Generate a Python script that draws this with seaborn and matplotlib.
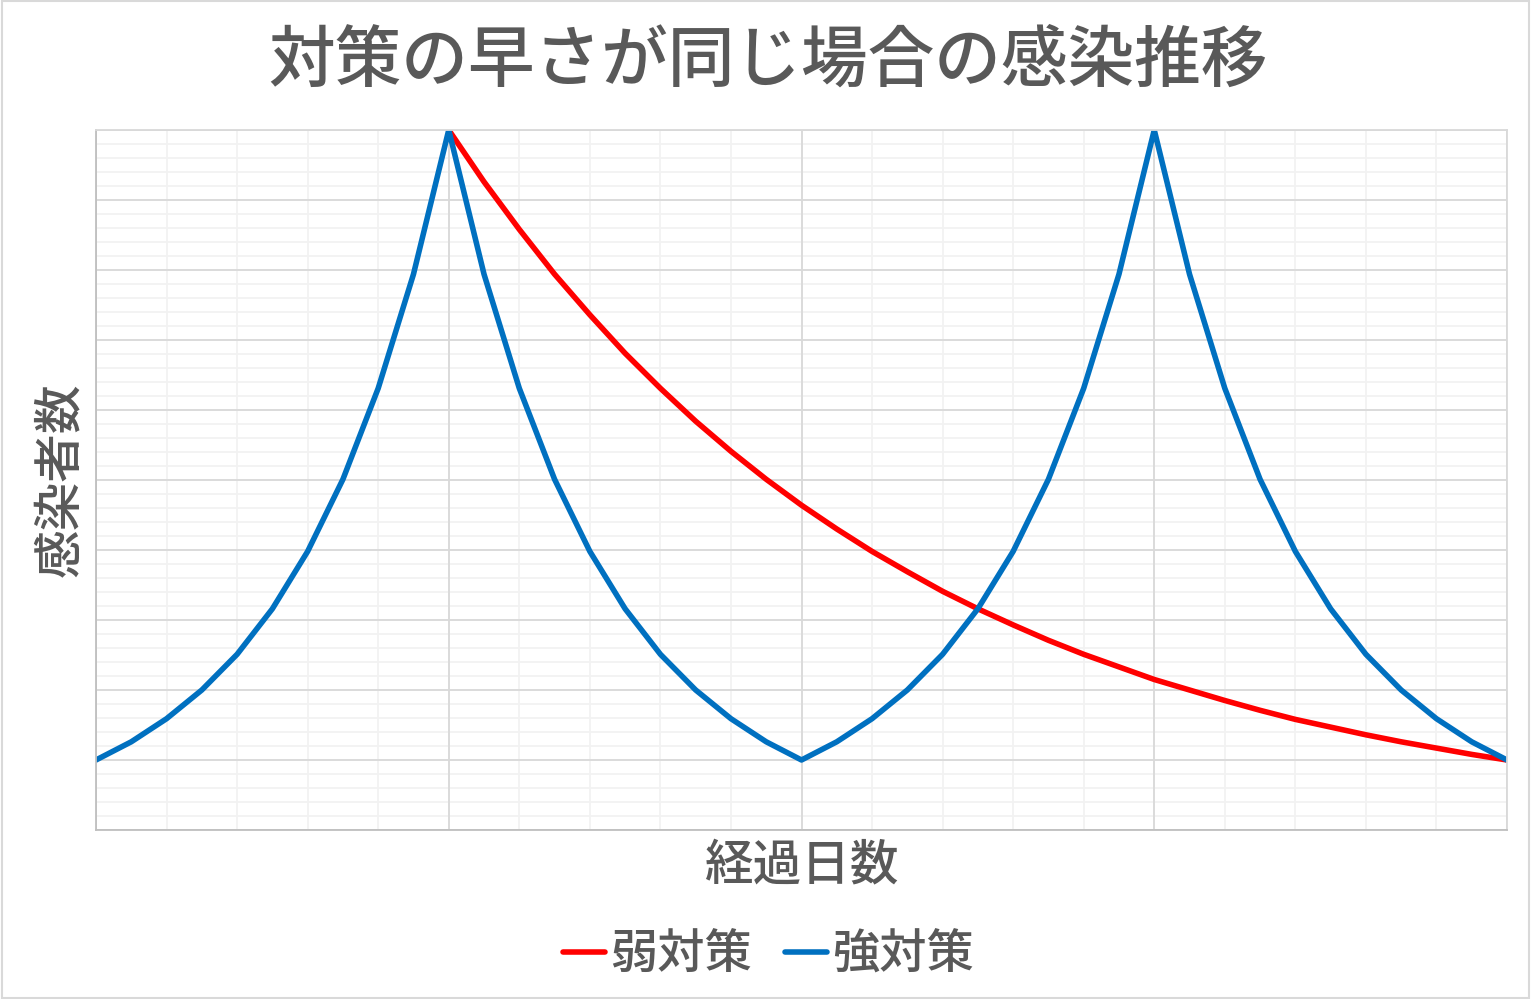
import numpy as np
import pandas as pd
import matplotlib.pyplot as plt
import seaborn as sns
from matplotlib.patches import Rectangle

# days 0..40, values (y axis 0..10, no labels)
days = list(range(41))

strong = [1.0, 1.26, 1.59, 2.0, 2.51, 3.16, 3.98, 5.01, 6.31, 7.94, 10.0,
          7.94, 6.31, 5.01, 3.98, 3.16, 2.51, 2.0, 1.59, 1.26, 1.0,
          1.26, 1.59, 2.0, 2.51, 3.16, 3.98, 5.01, 6.31, 7.94, 10.0,
          7.94, 6.31, 5.01, 3.98, 3.16, 2.51, 2.0, 1.59, 1.26, 1.0]

# weak measures start at the first peak (day 10)
weak_days = list(range(10, 41))
weak = [10.0, 9.26, 8.58, 7.94, 7.36, 6.81, 6.31, 5.84, 5.41, 5.01,
        4.64, 4.30, 3.98, 3.69, 3.41, 3.16, 2.93, 2.71, 2.51, 2.33,
        2.15, 2.00, 1.85, 1.71, 1.58, 1.47, 1.36, 1.26, 1.17, 1.08, 1.0]

series_names = ['弱対策', '強対策']
colors = ['#FF0000', '#0070C0']

df = pd.concat([
    pd.DataFrame({'day': weak_days, 'value': weak, 'series': series_names[0]}),
    pd.DataFrame({'day': days, 'value': strong, 'series': series_names[1]}),
])

sns.set_style('white')
plt.rcParams['font.family'] = ['Noto Sans CJK JP', 'DejaVu Sans']
text_color = '#595959'
weight = 'medium'

fig = plt.figure(figsize=(15.31, 9.99), dpi=100)
ax = fig.add_axes([96 / 1531, 1 - 830 / 999, (1507 - 96) / 1531, 700 / 999])

sns.lineplot(data=df, x='day', y='value', hue='series', hue_order=series_names,
             palette=dict(zip(series_names, colors)), linewidth=4.0, ax=ax,
             legend=False)

ax.set_xlim(0, 40)
ax.set_ylim(0, 10)
ax.set_xticks(np.arange(0, 41, 10))
ax.set_yticks(np.arange(0, 11, 1))
ax.tick_params(which='both', length=0, labelleft=False, labelbottom=False)

# minor grid first, major on top (like Excel)
for x in np.arange(0, 41, 2):
    ax.axvline(x, color='#F2F2F2', linewidth=1.3, zorder=0.1)
for y in np.arange(0, 10.01, 0.2):
    ax.axhline(y, color='#F2F2F2', linewidth=1.3, zorder=0.1)
ax.grid(which='major', color='#D9D9D9', linewidth=1.3)
ax.set_axisbelow(True)
for s in ['top', 'right']:
    ax.spines[s].set_color('#D9D9D9')
    ax.spines[s].set_linewidth(1.3)
for s in ['left', 'bottom']:
    ax.spines[s].set_color('#BFBFBF')
    ax.spines[s].set_linewidth(1.3)

ax.set_xlabel('')
ax.set_ylabel('')
fig.text(768 / 1531, 1 - 62 / 999, '対策の早さが同じ場合の感染推移', ha='center', va='center',
         fontsize=48, color=text_color, fontweight=weight)
fig.text(801 / 1531, 1 - 865 / 999, '経過日数', ha='center', va='center',
         fontsize=35, color=text_color, fontweight=weight)
fig.text(60 / 1531, 1 - 480 / 999, '感染者数', ha='center', va='center',
         fontsize=35, color=text_color, rotation=90, fontweight=weight)

handles = [plt.Line2D([], [], color=c, linewidth=4.0, solid_capstyle='round') for c in colors]
leg = fig.legend(handles, series_names, loc='center', bbox_to_anchor=(768 / 1531, 1 - 955 / 999),
                 ncol=2, frameon=False, fontsize=34, handlelength=0.9, handletextpad=0.1,
                 columnspacing=0.7, labelcolor=text_color,
                 prop={'weight': weight, 'size': 34})

fig.patches.append(Rectangle((0.001, 0.001), 0.998, 0.998, transform=fig.transFigure,
                             fill=False, edgecolor='#D9D9D9', linewidth=1.5))

fig.savefig('out.png', dpi=100)
